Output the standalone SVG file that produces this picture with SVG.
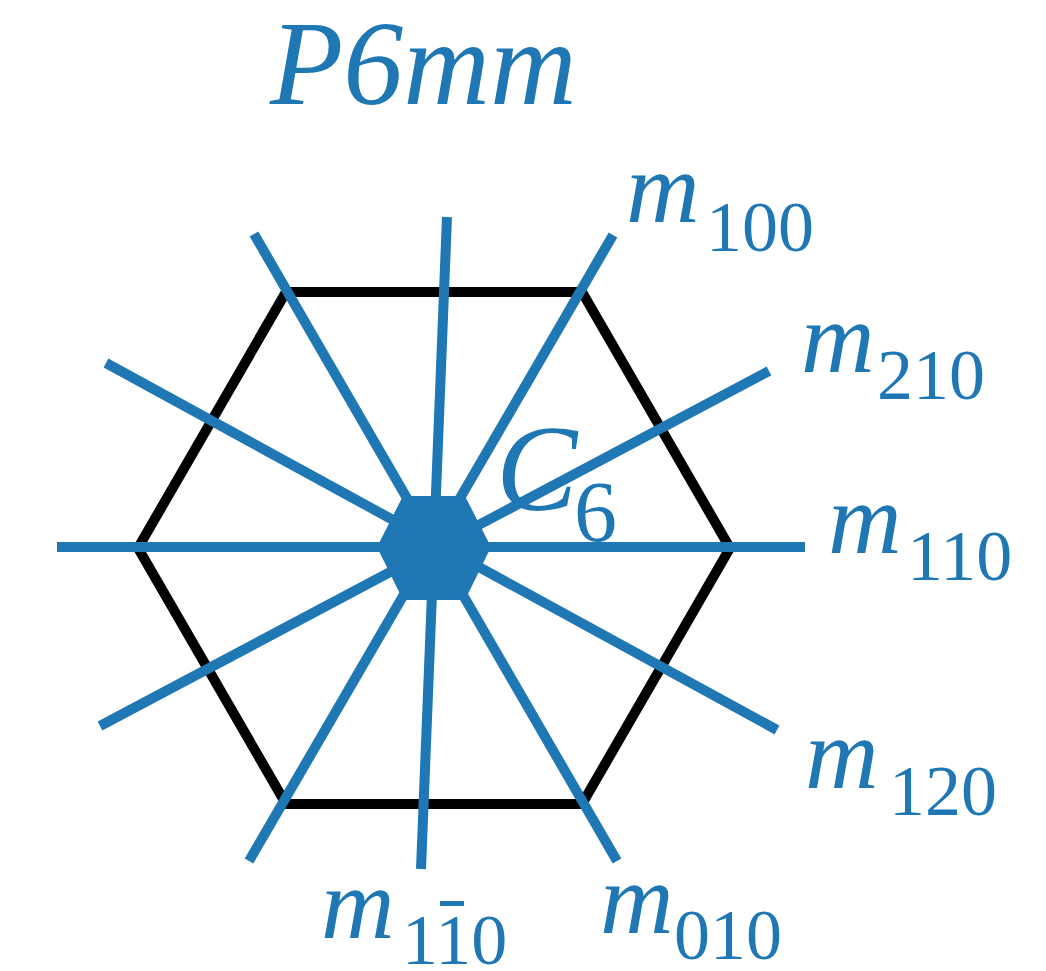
<svg xmlns="http://www.w3.org/2000/svg" width="1046" height="971" viewBox="0 0 1046 971">
<style>
.bl{stroke:#1f77b4;stroke-width:10;stroke-linecap:butt;fill:none}
.cell{stroke:#000;stroke-width:10;fill:none;stroke-linejoin:miter}
.lab{font-family:"Liberation Serif","Times New Roman",serif;fill:#1f77b4}
.it{font-style:italic}
</style>
<rect width="1046" height="971" fill="#fff"/>
<g id="unit-cell">
<polygon class="cell" points="138,548 286,292 582,292 730,548 582,804 286,804"/>
</g>
<g id="mirrors">
<line class="bl" x1="57" y1="547" x2="805" y2="547"/>
<line class="bl" x1="447" y1="217" x2="421" y2="869"/>
<line class="bl" x1="613" y1="235" x2="249" y2="861"/>
<line class="bl" x1="254" y1="234" x2="617" y2="861"/>
<line class="bl" x1="769" y1="371" x2="100" y2="726"/>
<line class="bl" x1="106" y1="363" x2="777" y2="730"/>
</g>
<g id="c6-axis">
<polygon fill="#1f77b4" points="377,547 403,496 465,496 491,547 465,600 403,600"/>
<text class="lab" x="496" y="510" font-size="122"><tspan class="it">C</tspan><tspan x="574" y="541" font-size="86">6</tspan></text>
</g>
<g id="title">
<text class="lab it" x="270" y="104" font-size="120">P6mm</text>
</g>
<g id="labels">
<text class="lab" x="626" y="222" font-size="102"><tspan class="it">m</tspan><tspan x="706" y="251" font-size="72">100</tspan></text>
<text class="lab" x="801" y="372" font-size="102"><tspan class="it">m</tspan><tspan x="877" y="399" font-size="72">210</tspan></text>
<text class="lab" x="828" y="553" font-size="102"><tspan class="it">m</tspan><tspan x="907" y="580" font-size="72">110</tspan></text>
<text class="lab" x="805" y="788" font-size="102"><tspan class="it">m</tspan><tspan x="889" y="815" font-size="72">120</tspan></text>
<text class="lab" x="600" y="933" font-size="102"><tspan class="it">m</tspan><tspan x="674" y="959" font-size="72">010</tspan></text>
<text class="lab" x="321" y="938" font-size="102"><tspan class="it">m</tspan><tspan x="402" y="964" font-size="72">110</tspan></text>
<rect x="440" y="901" width="24" height="5" fill="#1f77b4"/>
</g>
</svg>
